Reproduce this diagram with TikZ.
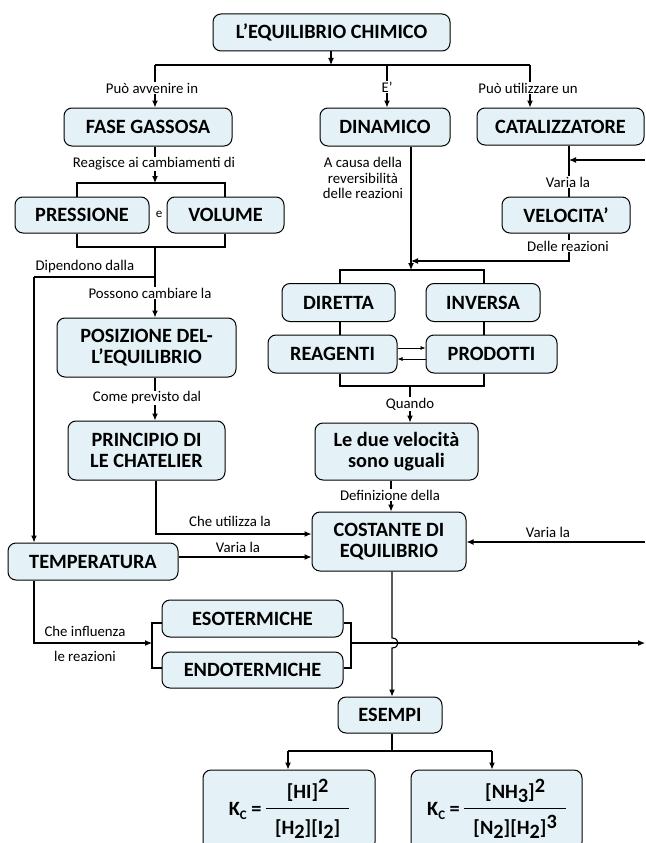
\documentclass[tikz,border=0pt]{standalone}
\usepackage{fontspec}
\setmainfont{Carlito}
\usepackage{tikz}
\usetikzlibrary{arrows.meta}
\definecolor{boxfill}{HTML}{E4F2F7}
\newcommand{\alto}[1]{\raisebox{6pt}{#1}}
\newcommand{\basso}[1]{\raisebox{-4pt}{#1}}
\newcommand{\frazione}[2]{\begin{tabular}{@{\hspace{9pt}}c@{\hspace{9pt}}}#1\\[4pt]\hline\rule{0pt}{26pt}#2\end{tabular}}
\tikzset{
  nodo/.style={draw, line width=1pt, rounded corners=8pt, fill=boxfill, align=center,
    inner sep=2pt, font=\bfseries\fontsize{20.3}{21.5}\selectfont},
  etich/.style={fill=white, inner sep=1pt, align=center, font=\fontsize{14.8}{15.5}\selectfont}
}

\begin{document}
\begin{tikzpicture}[x=1pt, y=-1pt, line width=1.1pt, >={Latex[length=7pt,width=6pt]}]
  \clip (0,0) rectangle (645,843);
  \fill[white] (0,0) rectangle (645,843);

  % Nodi
  \node[nodo, minimum width=237, minimum height=37] (titolo) at (331.5,32.5) {L’EQUILIBRIO CHIMICO};
  \node[nodo, minimum width=168, minimum height=38] (fase) at (148,127) {FASE GASSOSA};
  \node[nodo, minimum width=130, minimum height=38] (dinamico) at (385,127) {DINAMICO};
  \node[nodo, minimum width=167, minimum height=37] (catal) at (560.5,126.5) {CATALIZZATORE};
  \node[nodo, minimum width=134, minimum height=36] (pressione) at (82,215) {PRESSIONE};
  \node[nodo, minimum width=117, minimum height=36] (volume) at (225.5,215) {VOLUME};
  \node[nodo, minimum width=128, minimum height=36] (velocita) at (566,215) {VELOCITA’};
  \node[nodo, minimum width=113, minimum height=38] (diretta) at (338.5,302.5) {DIRETTA};
  \node[nodo, minimum width=114, minimum height=38] (inversa) at (483,302.5) {INVERSA};
  \node[nodo, minimum width=129, minimum height=38] (reagenti) at (332.5,354) {REAGENTI};
  \node[nodo, minimum width=131, minimum height=38] (prodotti) at (491.5,354) {PRODOTTI};
  \node[nodo, minimum width=179, minimum height=59] (posizione) at (146.5,347.5) {POSIZIONE DEL-\\L’EQUILIBRIO};
  \node[nodo, minimum width=157, minimum height=59] (principio) at (146.5,450.5) {PRINCIPIO DI\\LE CHATELIER};
  \node[nodo, minimum width=163, minimum height=57] (uguali) at (396.5,451.5) {Le due velocità\\sono uguali};
  \node[nodo, minimum width=154, minimum height=59] (costante) at (389,541.5) {COSTANTE DI\\EQUILIBRIO};
  \node[nodo, minimum width=170, minimum height=37] (temperatura) at (93,561.5) {TEMPERATURA};
  \node[nodo, minimum width=181, minimum height=37] (esoterm) at (252.5,618.5) {ESOTERMICHE};
  \node[nodo, minimum width=181, minimum height=36] (endoterm) at (252.5,670) {ENDOTERMICHE};
  \node[nodo, minimum width=104, minimum height=36] (esempi) at (390,715) {ESEMPI};
  \node[nodo, minimum width=172, minimum height=80] (kc1) at (289,810)
    {K\basso{\fontsize{13}{13}\selectfont C} = \frazione{[HI]\alto{2}}{[H\basso{2}][I\basso{2}]}};
  \node[nodo, minimum width=171, minimum height=80] (kc2) at (496.5,810)
    {K\basso{\fontsize{13}{13}\selectfont C} = \frazione{[NH\basso{3}]\alto{2}}{[N\basso{2}][H\basso{2}]\alto{3}}};

  % Ramo superiore
  \coordinate (snodo) at (331,65);
  \coordinate (rSx) at (155,65);
  \coordinate (rCx) at (387,65);
  \coordinate (rDx) at (530,65);
  \draw[->] (titolo.south -| snodo) -- (snodo);
  \draw (rSx) -- (rDx);
  \foreach \c/\n in {rSx/fase, rCx/dinamico, rDx/catal}
    \draw[->] (\c) -- (\c |- \n.north);

  % Pressione e volume
  \coordinate (fG) at (155,183);
  \coordinate (bPL) at (77,183);
  \coordinate (bPR) at (225,183);
  \coordinate (bQL) at (77,247);
  \coordinate (bQR) at (225,247);
  \draw[->] (fase.south -| fG) -- (fG);
  \draw (bPL |- pressione.north) -- (bPL) -- (bPR) -- (bPR |- volume.north);
  \draw (bPL |- pressione.south) -- (bQL) -- (bQR) -- (bPR |- volume.south);

  % Colonna sinistra
  \coordinate (jP) at (155,247);
  \coordinate (jD) at (155,277);
  \coordinate (jT) at (34,277);
  \coordinate (cU) at (156,534);
  \coordinate (vT) at (178,557);
  \draw (jP) -- (jD) -- (jT);
  \draw[->] (jT) -- (jT |- temperatura.north);
  \draw[->] (jD) -- (jD |- posizione.north);
  \draw[->] (jD |- posizione.south) -- (jD |- principio.north);
  \draw[->] (cU |- principio.south) -- (cU) -- (cU -| costante.west);
  \draw[->] (vT -| temperatura.east) -- (vT -| costante.west);

  % Reazioni esotermiche / endotermiche
  \coordinate (tI) at (34,643);
  \coordinate (bL) at (152,643);
  \coordinate (bL1) at (152,623);
  \coordinate (bL2) at (152,668);
  \coordinate (bR1) at (351,623);
  \coordinate (bR2) at (351,668);
  \coordinate (bRm) at (351,643);
  \coordinate (fineR) at (645,643);
  \draw[->] (jT |- temperatura.south) -- (tI) -- (bL);
  \draw (bL1 -| esoterm.west) -- (bL1) -- (bL2) -- (bL2 -| endoterm.west);
  \draw (bR1 -| esoterm.east) -- (bR1) -- (bR2) -- (bR2 -| endoterm.east);
  \draw[->] (bRm) -- (fineR);

  % Dinamico e catalizzatore
  \coordinate (dV) at (411,261);
  \coordinate (dB) at (411,270);
  \coordinate (cV) at (569,261);
  \coordinate (eC) at (645,160);
  \draw[->] (dV |- dinamico.south) -- (dB);
  \draw (cV |- catal.south) -- (cV |- velocita.north);
  \draw[->] (eC) -- (eC -| cV);
  \draw[->] (cV |- velocita.south) -- (cV) -- (dV);

  % Diretta / inversa
  \coordinate (rL) at (340,270);
  \coordinate (rR) at (484,270);
  \coordinate (sL) at (340,386);
  \coordinate (sR) at (484,386);
  \coordinate (sM) at (410,386);
  \coordinate (fA) at (0,348);
  \coordinate (fB) at (0,359);
  \draw (rL |- diretta.north) -- (rL) -- (rR) -- (rR |- inversa.north);
  \draw (rL |- diretta.south) -- (rL |- reagenti.north);
  \draw (rR |- inversa.south) -- (rR |- prodotti.north);
  \draw (rL |- reagenti.south) -- (sL) -- (sR) -- (rR |- prodotti.south);
  \draw[-{Latex[length=5pt,width=4pt]}, line width=0.7pt] (reagenti.east |- fA) -- (prodotti.west |- fA);
  \draw[-{Latex[length=5pt,width=4pt]}, line width=0.7pt] (prodotti.west |- fB) -- (reagenti.east |- fB);
  \draw[->] (sM) -- (sM |- uguali.north);

  % Costante di equilibrio ed esempi
  \coordinate (qD) at (391,0);
  \coordinate (eV) at (645,542);
  \coordinate (hA) at (392,638);
  \coordinate (hB) at (392,648);
  \coordinate (eS) at (392,751);
  \coordinate (eL) at (288,751);
  \coordinate (eR) at (492,751);
  \draw[->] (qD |- uguali.south) -- (qD |- costante.north);
  \draw[->] (eV) -- (eV -| costante.east);
  \draw[->] (hA |- costante.south) -- (hA) .. controls (400,638) and (400,648) .. (hB) -- (hA |- esempi.north);
  \draw (eS |- esempi.south) -- (eS);
  \draw (eL) -- (eR);
  \draw[->] (eL) -- (eL |- kc1.north);
  \draw[->] (eR) -- (eR |- kc2.north);

  % Etichette
  \node[etich] (lAvv) at (152,88) {Può avvenire in};
  \node[etich] (lE1) at (387,87) {E’};
  \node[etich] (lUtil) at (528,88) {Può utilizzare un};
  \node[etich] (lReag) at (154,164) {Reagisce ai cambiamenti di};
  \node[etich, font=\fontsize{13}{14}\selectfont] (lE2) at (159,214) {e};
  \node[etich, anchor=west] (lDip) at (34,267) {Dipendono dalla};
  \node[etich] (lPos) at (150,293) {Possono cambiare la};
  \node[etich] (lCome) at (147,398) {Come previsto dal};
  \node[etich] (lChe) at (230,521) {Che utilizza la};
  \node[etich] (lVarT) at (238,547) {Varia la};
  \node[etich] (lInfl) at (85,631) {Che influenza};
  \node[etich] (lReaz) at (85,656) {le reazioni};
  \node[etich] (lCausa) at (363,178) {A causa della\\reversibilità\\delle reazioni};
  \node[etich] (lVarC) at (568,182) {Varia la};
  \node[etich] (lDelle) at (568,246) {Delle reazioni};
  \node[etich] (lQuando) at (410,404) {Quando};
  \node[etich] (lDef) at (390,495) {Definizione della};
  \node[etich] (lVarK) at (548,532) {Varia la};
\end{tikzpicture}
\end{document}
